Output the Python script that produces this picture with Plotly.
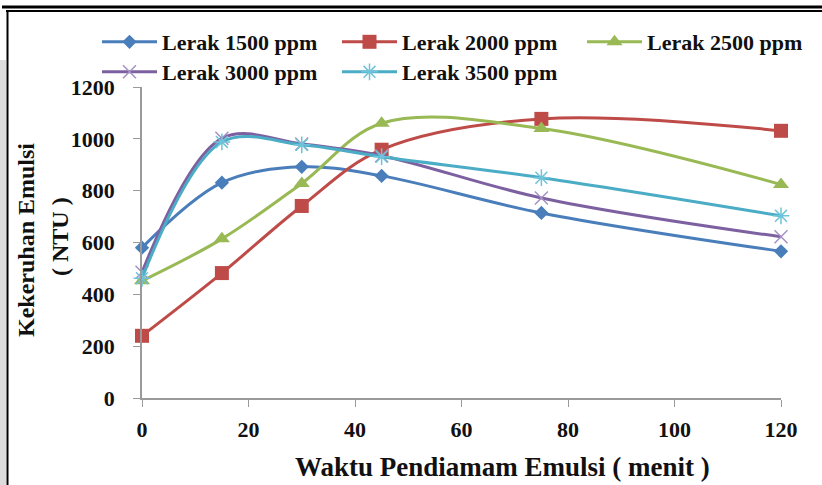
import plotly.graph_objects as go

# ---- data ----
waktu = [0, 15, 30, 45, 75, 120]
lerak_1500 = [580, 831, 892, 857, 714, 566]
lerak_2000 = [240, 482, 741, 958, 1077, 1031]
lerak_2500 = [452, 614, 828, 1060, 1040, 824]
lerak_3000 = [485, 1002, 980, 935, 772, 622]
lerak_3500 = [462, 988, 977, 931, 850, 703]
series_names = ["Lerak 1500 ppm", "Lerak 2000 ppm", "Lerak 2500 ppm",
                "Lerak 3000 ppm", "Lerak 3500 ppm"]
x_ticks = [0, 20, 40, 60, 80, 100, 120]
y_ticks = [0, 200, 400, 600, 800, 1000, 1200]

W, H = 822, 485
L, R, T, B = 142, 41, 87, 87
PW, PH = W - L - R, H - T - B

def px(xp):
    return (xp - L) / PW

def py(yp):
    return (H - B - yp) / PH

styles = [
    dict(color="#4A7EBB", symbol="diamond", size=11, mcolor="#4A7EBB", lw=0, leg="legend"),
    dict(color="#BE4B48", symbol="square", size=14, mcolor="#BE4B48", lw=0, leg="legend"),
    dict(color="#98B954", symbol="triangle-up", size=14, mcolor="#98B954", lw=0, leg="legend3"),
    dict(color="#7D60A0", symbol="x-thin-open", size=13, mcolor="#A591C4", lw=1.5, leg="legend2"),
    dict(color="#4BACC6", symbol="asterisk-open", size=14, mcolor="#6CC3DA", lw=1.5, leg="legend2"),
]
data = [lerak_1500, lerak_2000, lerak_2500, lerak_3000, lerak_3500]

fig = go.Figure()
for name, ys, st in zip(series_names, data, styles):
    fig.add_trace(go.Scatter(
        x=waktu, y=ys, name=name, mode="lines+markers",
        line=dict(color=st["color"], width=3, shape="spline", smoothing=1),
        marker=dict(symbol=st["symbol"], size=st["size"], color=st["mcolor"],
                    line=dict(width=st["lw"], color=st["mcolor"])),
        cliponaxis=False, legend=st["leg"],
    ))

font_fam = "Liberation Serif, Times New Roman, serif"
tickfont = dict(family=font_fam, size=22, color="#111111", weight="bold")
legfont = dict(family=font_fam, size=22, color="#111111", weight="bold")

def leg(xpix, ytop):
    return dict(orientation="h", xref="container", yref="container",
                x=xpix / W, y=1 - ytop / H, xanchor="left", yanchor="top",
                font=legfont, itemwidth=55, entrywidth=170, entrywidthmode="pixels",
                bgcolor="rgba(0,0,0,0)", tracegroupgap=0)

fig.update_layout(
    width=W, height=H,
    margin=dict(l=L, r=R, t=T, b=B, autoexpand=False),
    paper_bgcolor="white", plot_bgcolor="white",
    font=dict(family=font_fam),
    xaxis=dict(range=[0, 120], tickvals=x_ticks,
               showgrid=False, zeroline=False, showline=True, linecolor="#9a9a9a",
               linewidth=1.5, ticks="outside", ticklen=7, tickcolor="#9a9a9a",
               tickfont=tickfont, ticklabelstandoff=4, automargin=False),
    yaxis=dict(range=[0, 1200], tickvals=y_ticks,
               showgrid=False, zeroline=False, showline=True, linecolor="#9a9a9a",
               linewidth=1.5, ticks="outside", ticklen=7, tickcolor="#9a9a9a",
               tickfont=tickfont, ticklabelstandoff=14, automargin=False),
    legend=leg(97, 21),
    legend3=leg(582, 21),
    legend2=leg(97, 51),
    showlegend=True,
)

# axis titles as annotations
fig.add_annotation(text="Kekeruhan Emulsi", xref="paper", yref="paper",
                   x=px(26), y=py(240), xanchor="center", yanchor="middle",
                   textangle=-90, showarrow=False,
                   font=dict(family=font_fam, size=24, color="#111111", weight="bold"))
fig.add_annotation(text="( NTU )", xref="paper", yref="paper",
                   x=px(60), y=py(237), xanchor="center", yanchor="middle",
                   textangle=-90, showarrow=False,
                   font=dict(family=font_fam, size=24, color="#111111", weight="bold"))
fig.add_annotation(text="Waktu Pendiamam Emulsi ( menit )", xref="paper", yref="paper",
                   x=px(502), y=py(467), xanchor="center", yanchor="middle", showarrow=False,
                   font=dict(family=font_fam, size=27, color="#111111", weight="bold"))

# frame lines
fig.add_shape(type="rect", xref="paper", yref="paper", x0=px(0), x1=px(6), y0=py(60), y1=py(485),
              fillcolor="#dcdcdc", line=dict(width=0), layer="below")
fig.add_shape(type="line", xref="paper", yref="paper", x0=px(2), x1=px(822), y0=py(7), y1=py(7),
              line=dict(color="black", width=3))
fig.add_shape(type="line", xref="paper", yref="paper", x0=px(6), x1=px(822), y0=py(11), y1=py(11),
              line=dict(color="black", width=2))
fig.add_shape(type="line", xref="paper", yref="paper", x0=px(7.5), x1=px(7.5), y0=py(10), y1=py(485),
              line=dict(color="black", width=2))

fig.write_html("out.html")
